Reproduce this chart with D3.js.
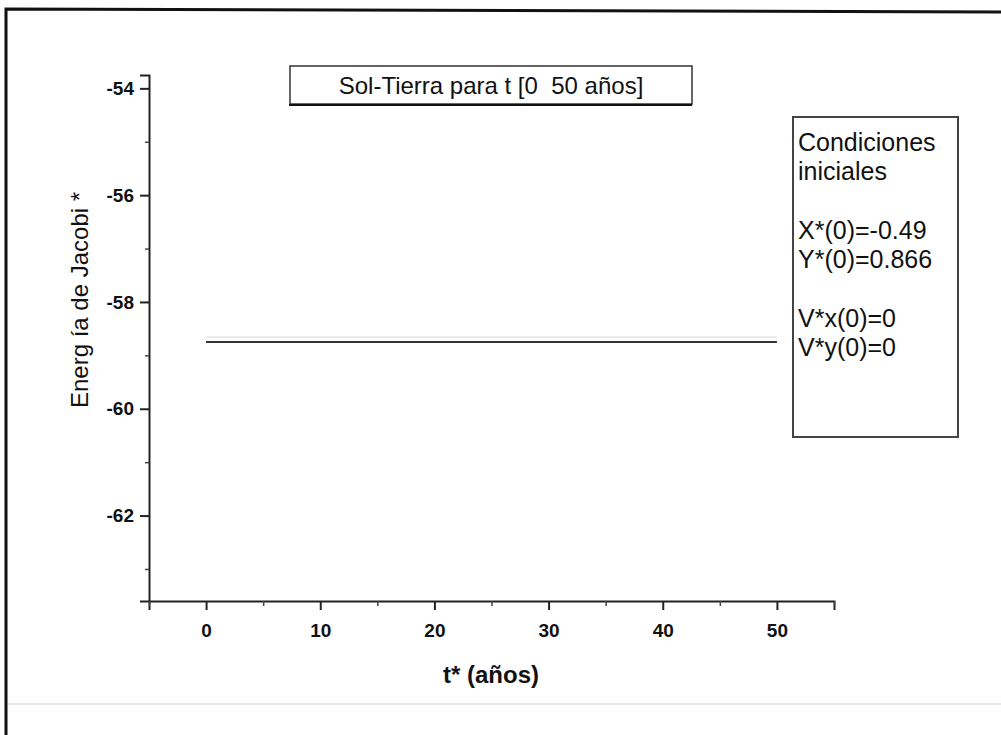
<!DOCTYPE html>
<html>
<head>
<meta charset="utf-8">
<script src="https://cdn.jsdelivr.net/npm/d3@7"></script>
<style>
  body { margin: 0; background: #fff; }
  text { font-family: "Liberation Sans", Arial, sans-serif; fill: #111; white-space: pre; }
</style>
</head>
<body>
<div id="chart"></div>
<script>
// Data
const timeYears = [0, 5, 10, 15, 20, 25, 30, 35, 40, 45, 50];
const jacobiEnergy = [-58.75, -58.75, -58.75, -58.75, -58.75, -58.75, -58.75, -58.75, -58.75, -58.75, -58.75];
const xTicks = [0, 10, 20, 30, 40, 50];
const xMinorTicks = [-5, 5, 15, 25, 35, 45, 55];
const yTicks = [-54, -56, -58, -60, -62];
const yMinorTicks = [-55, -57, -59, -61, -63];
const titleText = 'Sol-Tierra para t [0  50 años]';
const legendLines = ['Condiciones', 'iniciales', '', 'X*(0)=-0.49', 'Y*(0)=0.866', '', 'V*x(0)=0', 'V*y(0)=0'];

const width = 1001, height = 735;

const svg = d3.select('#chart')
    .append('svg')
    .attr('width', width)
    .attr('height', height);

// Outer frame (left and top edges)
svg.append('path')
    .attr('d', 'M6,735 L6,9 L1001,12')
    .attr('fill', 'none')
    .attr('stroke', '#111')
    .attr('stroke-width', 3);

svg.append('line')
    .attr('x1', 8).attr('x2', 1001)
    .attr('y1', 704).attr('y2', 704)
    .attr('stroke', '#e2e2e2')
    .attr('stroke-width', 1.5);

// Scales
const x = d3.scaleLinear().domain([-5, 55]).range([149, 834]);
const y = d3.scaleLinear().domain([-63.6, -53.75]).range([601, 75]);

// Y axis
const yAxis = svg.append('g')
    .attr('transform', 'translate(149,0)')
    .call(d3.axisLeft(y).tickValues(yTicks).tickSize(9).tickPadding(6).tickFormat(d => String(d)));
yAxis.select('.domain').attr('stroke', '#222').attr('stroke-width', 2);
yAxis.selectAll('.tick line').attr('stroke', '#222').attr('stroke-width', 2);
yAxis.selectAll('text')
    .style('font-size', '19px')
    .style('font-weight', 'bold')
    .attr('fill', '#111');

svg.append('g')
    .attr('transform', 'translate(149,0)')
    .call(d3.axisLeft(y).tickValues(yMinorTicks).tickSize(4).tickFormat(''))
    .call(g => g.select('.domain').remove())
    .selectAll('.tick line').attr('stroke', '#444').attr('stroke-width', 1.5);

// X axis
const xAxis = svg.append('g')
    .attr('transform', 'translate(0,601)')
    .call(d3.axisBottom(x).tickValues(xTicks).tickSize(9).tickPadding(6).tickFormat(d => String(d)));
xAxis.select('.domain').attr('stroke', '#222').attr('stroke-width', 2);
xAxis.selectAll('.tick line').attr('stroke', '#222').attr('stroke-width', 2);
xAxis.selectAll('text')
    .attr('dy', null)
    .attr('y', 36)
    .style('font-size', '19px')
    .style('font-weight', 'bold')
    .attr('fill', '#111');

svg.append('g')
    .attr('transform', 'translate(0,601)')
    .call(d3.axisBottom(x).tickValues(xMinorTicks).tickSize(5).tickFormat(''))
    .call(g => g.select('.domain').remove())
    .selectAll('.tick line').attr('stroke', '#444').attr('stroke-width', 1.5);

// Axis titles
svg.append('text')
    .attr('x', 491)
    .attr('y', 683)
    .attr('text-anchor', 'middle')
    .style('font-size', '24px')
    .style('font-weight', 'bold')
    .text('t* (años)');

svg.append('text')
    .attr('transform', 'translate(88,300) rotate(-90)')
    .attr('text-anchor', 'middle')
    .style('font-size', '24px')
    .text('Energ ía de Jacobi *');

// Data line
const data = timeYears.map((t, i) => ({ t: t, e: jacobiEnergy[i] }));

svg.append('path')
    .datum(data)
    .attr('fill', 'none')
    .attr('stroke', '#ececec')
    .attr('stroke-width', 2)
    .attr('d', d3.line().x(d => x(d.t)).y(d => y(d.e) - 5));

svg.append('path')
    .datum(data)
    .attr('fill', 'none')
    .attr('stroke', '#333')
    .attr('stroke-width', 2)
    .attr('d', d3.line().x(d => x(d.t)).y(d => y(d.e)));

// Title box
svg.append('rect')
    .attr('x', 290).attr('y', 66)
    .attr('width', 402).attr('height', 38)
    .attr('fill', '#fff')
    .attr('stroke', '#333')
    .attr('stroke-width', 1.5);
svg.append('line')
    .attr('x1', 289).attr('x2', 692)
    .attr('y1', 105).attr('y2', 105)
    .attr('stroke', '#111')
    .attr('stroke-width', 2);
svg.append('text')
    .attr('x', 491)
    .attr('y', 94)
    .attr('text-anchor', 'middle')
    .style('font-size', '24px')
    .text(titleText);

// Legend box
svg.append('rect')
    .attr('x', 793).attr('y', 117)
    .attr('width', 165).attr('height', 320)
    .attr('fill', '#fff')
    .attr('stroke', '#444')
    .attr('stroke-width', 2);

svg.selectAll('.legend-line')
    .data(legendLines)
    .enter()
    .append('text')
    .attr('class', 'legend-line')
    .attr('x', 798)
    .attr('y', (d, i) => 151 + i * 29.3)
    .style('font-size', '25px')
    .text(d => d);
</script>
</body>
</html>
